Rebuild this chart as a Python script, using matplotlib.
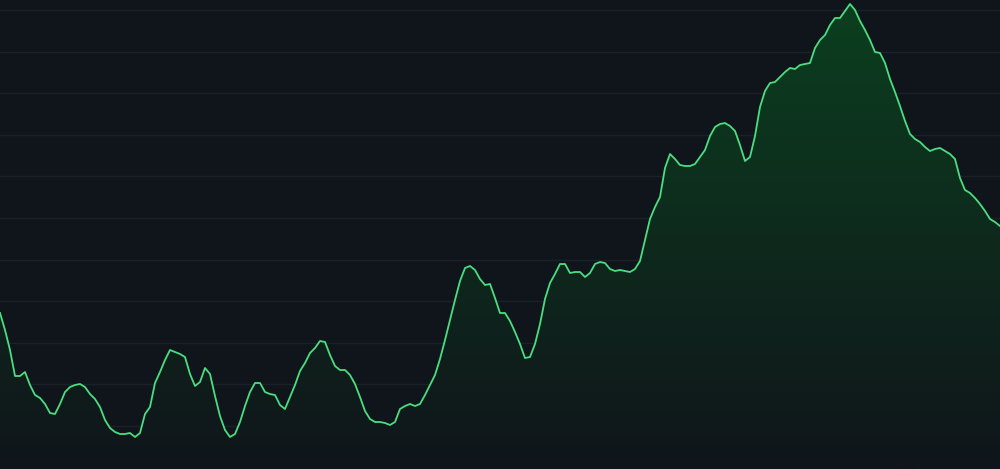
import numpy as np
import matplotlib
matplotlib.use("Agg")
import matplotlib.pyplot as plt
from matplotlib.colors import LinearSegmentedColormap
from matplotlib.patches import Polygon

# Series values (unitless level), one per period
values = [
    154, 137, 117, 91, 91, 95, 82, 72, 69, 63,
    54, 53, 63, 75, 80, 82, 83, 80, 73, 68,
    60, 47, 39, 35, 33, 33, 34, 30, 34, 53,
    60, 84, 95, 107, 117, 115, 113, 110, 93, 81,
    85, 99, 93, 71, 51, 37, 30, 33, 45, 61,
    75, 84, 84, 75, 73, 72, 62, 58, 70, 82,
    96, 104, 114, 119, 126, 125, 112, 101, 97, 97,
    92, 83, 70, 56, 48, 45, 45, 44, 42, 45,
    58, 61, 63, 61, 63, 72, 82, 92, 108, 127,
    147, 167, 186, 199, 201, 197, 188, 182, 183, 169,
    154, 154, 146, 135, 123, 109, 110, 123, 143, 168,
    184, 193, 203, 203, 194, 195, 195, 190, 194, 203,
    205, 204, 198, 196, 197, 196, 195, 198, 206, 227,
    248, 260, 270, 299, 313, 308, 302, 301, 301, 303,
    310, 317, 331, 340, 343, 344, 341, 336, 322, 306,
    310, 331, 360, 376, 384, 385, 390, 395, 399, 398,
    402, 403, 404, 419, 427, 432, 442, 449, 449, 456,
    463, 457, 446, 437, 427, 415, 414, 404, 388, 375,
    361, 346, 333, 328, 325, 320, 316, 318, 319, 316,
    313, 308, 289, 277, 274, 269, 263, 256, 248, 245,
    241,
]
periods = np.arange(len(values))

BG = "#10141b"
GRID = "#1b2129"
LINE = "#4ade80"

fig = plt.figure(figsize=(10, 4.69), dpi=100, facecolor=BG)
ax = fig.add_axes([0, 0, 1, 1])
ax.set_facecolor(BG)

y_lo, y_hi = -2, 467
ax.set_xlim(periods[0], periods[-1])
ax.set_ylim(y_lo, y_hi)

# grid
for g in np.arange(-0.6, y_hi, 41.6):
    ax.axhline(g, color=GRID, lw=1.0, zorder=1)

# gradient fill under the curve
cmap = LinearSegmentedColormap.from_list(
    "g", [(0.0, "#10151b"), (0.5, "#0e2a1d"), (1.0, "#0b3f1f")])
grad = np.linspace(0, 1, 256).reshape(-1, 1)
im = ax.imshow(grad, cmap=cmap, aspect="auto", origin="lower",
               extent=[periods[0], periods[-1], y_lo, max(values)],
               zorder=2)
verts = [(periods[0], y_lo)] + list(zip(periods, values)) + [(periods[-1], y_lo)]
poly = Polygon(verts, closed=True, facecolor="none", edgecolor="none")
ax.add_patch(poly)
im.set_clip_path(poly)

ax.plot(periods, values, color=LINE, lw=1.3, zorder=4,
        solid_joinstyle="round")

ax.set_xticks([])
ax.set_yticks([])
for s in ax.spines.values():
    s.set_visible(False)

fig.savefig("out.png", dpi=100, facecolor=BG)
